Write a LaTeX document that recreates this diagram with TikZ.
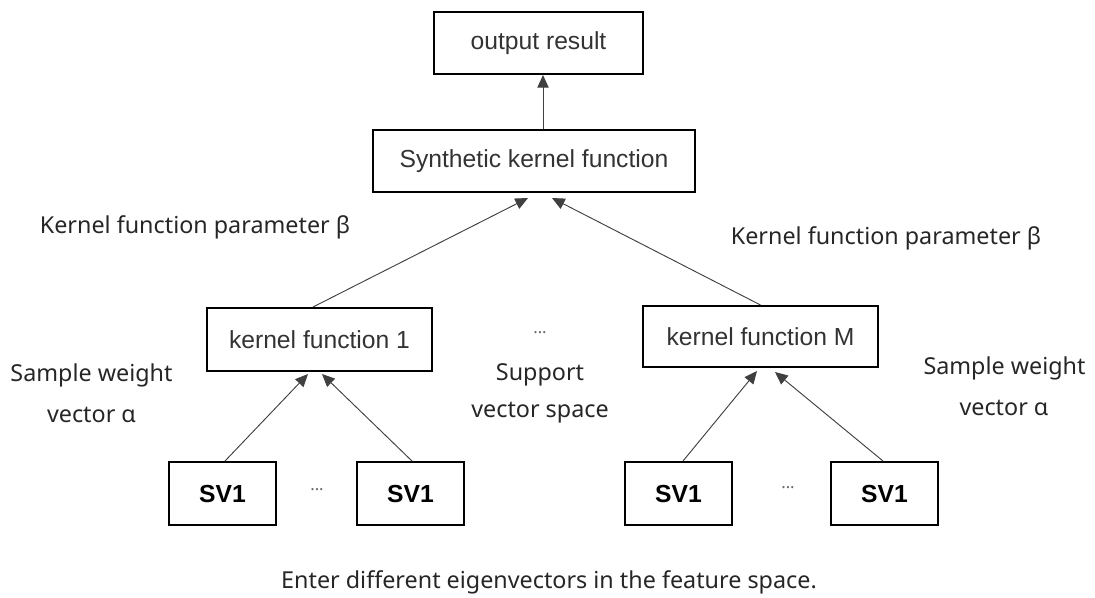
\documentclass[tikz,border=0pt]{standalone}
\usepackage{fontspec}
\setmainfont{Liberation Sans}
\newfontfamily\labelfont{Noto Sans}
\usetikzlibrary{arrows.meta,calc}

\tikzset{
  box/.style={draw, line width=1.5pt, inner sep=0pt, text=black!80,
    font=\fontsize{18.5}{22}\selectfont},
  svbox/.style={box, minimum width=80.25pt, minimum height=47.25pt, text=black,
    font=\bfseries\fontsize{18.5}{22}\selectfont},
  lbl/.style={inner sep=0pt, text=black!85, font=\labelfont\fontsize{17.5}{21}\selectfont},
  gap/.style={lbl, text=black!60, font=\labelfont\fontsize{12.5}{14}\selectfont},
  feed/.style={-{Triangle[length=9.5pt,width=8.5pt]}, line width=0.7pt, draw=black!75},
}

\begin{document}
\begin{tikzpicture}[x=0.75pt,y=0.75pt,yscale=-1]
\useasboundingbox (0,0) rectangle (1095,597);

%Shape: Rectangle [output]
\node[box, minimum width=156.75pt, minimum height=46.5pt] (out) at (538.5,43) {output result};
%Shape: Rectangle [synthetic kernel]
\node[box, minimum width=241.5pt, minimum height=46.5pt] (synth) at (534,161) {Synthetic kernel function};
%Shape: Rectangle [kernels]
\node[box, minimum width=168.75pt, minimum height=47.25pt] (kf1) at (319.5,339.5) {kernel function 1};
\node[box, minimum width=176.25pt, minimum height=45.75pt] (kfM) at (760.5,336.5) {kernel function M};
%Shape: Rectangle [support vectors]
\node[svbox] (sva) at (222.5,493.5) {SV1};
\node[svbox] (svb) at (410.5,493.5) {SV1};
\node[svbox] (svc) at (678.5,493.5) {SV1};
\node[svbox] (svd) at (884.5,493.5) {SV1};

%Straight Lines
\draw[feed] ($(synth.north)+(9,0)$) -- ($(out.south)+(4.5,0)$);
\draw[feed] ($(kf1.north)+(-6.5,0)$) -- ($(synth.south)+(-6,5)$);
\draw[feed] (kfM.north) -- ($(synth.south)+(18,5)$);
\draw[feed] ($(sva.north)+(2.5,0)$) -- ($(kf1.south)+(-11.5,2)$);
\draw[feed] ($(svb.north)+(1.5,0)$) -- ($(kf1.south)+(2.5,2)$);
\draw[feed] ($(svc.north)+(4.5,0)$) -- ($(kfM.south)+(-3.5,3)$);
\draw[feed] ($(svd.north)+(-1.5,0)$) -- ($(kfM.south)+(14.5,4)$);

% Text Node
\node[lbl] (parl) at (195,227) {Kernel function parameter β};
% Text Node
\node[lbl] (parr) at (886,238) {Kernel function parameter β};
% Text Node
\node[lbl] (swla) at (91.5,375) {Sample weight};
\node[lbl] (swlb) at (91.5,415) {vector α};
% Text Node
\node[lbl] (swra) at (1004.5,368) {Sample weight};
\node[lbl] (swrb) at (1004,408) {vector α};
% Text Node
\node[gap] (dotsk) at (540,333) {...};
\node[lbl] (supa) at (540,375) {Support};
\node[lbl] (supb) at (540,413) {vector space};
% Text Node
\node[gap] (dotsl) at (317,490) {...};
\node[gap] (dotsr) at (788,488) {...};
% Text Node
\node[lbl] (feat) at (549,582) {Enter different eigenvectors in the feature space.};

\end{tikzpicture}
\end{document}
